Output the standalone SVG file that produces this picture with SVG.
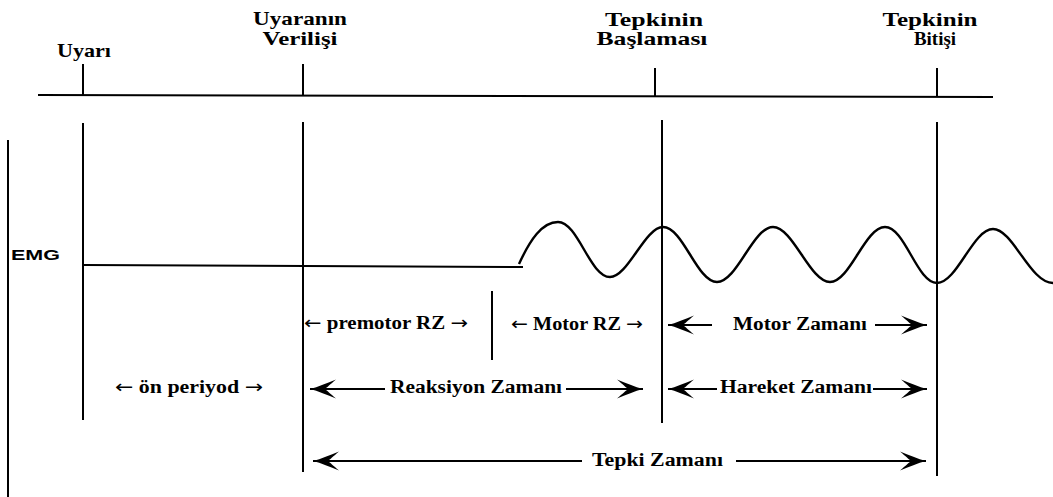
<svg xmlns="http://www.w3.org/2000/svg" width="1053" height="497" viewBox="0 0 1053 497">
  <style>
    .ln { stroke: #000; stroke-width: 2; fill: none; stroke-linecap: butt; }
    .wave { stroke: #000; stroke-width: 2.4; fill: none; stroke-linejoin: round; }
    .lbl { font-family: "Liberation Serif", "DejaVu Serif", serif; font-size: 19px; font-weight: bold; fill: #000; }
    .row { font-family: "Liberation Serif", "DejaVu Serif", serif; font-size: 18px; font-weight: bold; fill: #000; }
    .ar { font-family: "DejaVu Sans", sans-serif; font-weight: normal; }
    .emg { font-family: "Liberation Sans", "DejaVu Sans", sans-serif; font-size: 15px; font-weight: bold; fill: #000; }
    .arr { stroke: #000; stroke-width: 2; fill: none; marker-start: url(#ah); }
    .arr-e { stroke: #000; stroke-width: 2; fill: none; marker-end: url(#ah); }
  </style>
  <defs>
    <marker id="ah" viewBox="-28 -11 30 22" refX="0" refY="0" markerWidth="30" markerHeight="22" markerUnits="userSpaceOnUse" orient="auto-start-reverse">
      <path d="M0,0 C-8,-2 -17,-6 -26,-9.5 C-20,-4.5 -17,-1.5 -15,0 C-17,1.5 -20,4.5 -26,9.5 C-17,6 -8,2 0,0 Z" fill="#000"/>
    </marker>
  </defs>
  <rect width="1053" height="497" fill="#fff"/>

  <g id="timeline">
    <path class="ln" d="M38,95 L993,97"/>
    <path class="ln" d="M83,64 V96"/>
    <path class="ln" d="M303,64 V96"/>
    <path class="ln" d="M655,68 V97"/>
    <path class="ln" d="M937,68 V97"/>
  </g>

  <g id="label-uyari">
    <text class="lbl" x="84" y="57" text-anchor="middle" textLength="54" lengthAdjust="spacingAndGlyphs">Uyarı</text>
  </g>
  <g id="label-uyaranin-verilisi">
    <text class="lbl" x="300" y="25" text-anchor="middle" textLength="94" lengthAdjust="spacingAndGlyphs">Uyaranın</text>
    <text class="lbl" x="300" y="45" text-anchor="middle" textLength="75" lengthAdjust="spacingAndGlyphs">Verilişi</text>
  </g>
  <g id="label-tepkinin-baslamasi">
    <text class="lbl" x="654" y="26" text-anchor="middle" textLength="98" lengthAdjust="spacingAndGlyphs">Tepkinin</text>
    <text class="lbl" x="652" y="45" text-anchor="middle" textLength="111" lengthAdjust="spacingAndGlyphs">Başlaması</text>
  </g>
  <g id="label-tepkinin-bitisi">
    <text class="lbl" x="930" y="26" text-anchor="middle" textLength="95" lengthAdjust="spacingAndGlyphs">Tepkinin</text>
    <text class="lbl" x="935" y="45" text-anchor="middle" textLength="42" lengthAdjust="spacingAndGlyphs">Bitişi</text>
  </g>

  <g id="verticals">
    <path class="ln" d="M8,140 V497" stroke-width="2.6"/>
    <path class="ln" d="M83,123 V420"/>
    <path class="ln" d="M303,122 V472"/>
    <path class="ln" d="M662,120 V423"/>
    <path class="ln" d="M937,122 V476"/>
    <path class="ln" d="M492,291 V360"/>
  </g>

  <g id="emg">
    <text class="emg" x="11" y="260" textLength="49" lengthAdjust="spacingAndGlyphs">EMG</text>
    <path class="ln" d="M83,265 L523,267"/>
    <path class="wave" d="M519,264 C530,240 542,222 558,222 C578,222 590,277 610,277 C628,277 645,227 663,227 C683,227 697,282 717,282 C737,282 753,227 773,227 C793,227 810,282 830,282 C850,282 865,227 885,227 C905,227 917,283 937,283 C957,283 973,229 993,229 C1013,229 1030,283 1053,283"/>
  </g>

  <g id="label-premotor">
    <text class="row" x="304" y="329" textLength="164" lengthAdjust="spacingAndGlyphs"><tspan class="ar">←</tspan> premotor RZ <tspan class="ar">→</tspan></text>
  </g>
  <g id="label-motor-rz">
    <text class="row" x="511" y="330" textLength="132" lengthAdjust="spacingAndGlyphs"><tspan class="ar">←</tspan> Motor RZ <tspan class="ar">→</tspan></text>
  </g>
  <g id="label-on-periyod">
    <text class="row" x="115" y="393" textLength="148" lengthAdjust="spacingAndGlyphs"><tspan class="ar">←</tspan> ön periyod <tspan class="ar">→</tspan></text>
  </g>

  <g id="connectors">
    <path class="arr" d="M668,325 H712"/>
    <path class="arr-e" d="M875,325 H927"/>
    <path class="arr" d="M310,389 H385"/>
    <path class="arr-e" d="M566,389 H643"/>
    <path class="arr" d="M668,389 H717"/>
    <path class="arr-e" d="M873,389 H927"/>
    <path class="arr" d="M313,461 H582"/>
    <path class="arr-e" d="M736,461 H926"/>
  </g>

  <g id="label-motor-zamani">
    <text class="row" x="733" y="330" textLength="134" lengthAdjust="spacingAndGlyphs">Motor Zamanı</text>
  </g>
  <g id="label-reaksiyon-zamani">
    <text class="row" x="390" y="393" textLength="172" lengthAdjust="spacingAndGlyphs">Reaksiyon Zamanı</text>
  </g>
  <g id="label-hareket-zamani">
    <text class="row" x="720" y="393" textLength="152" lengthAdjust="spacingAndGlyphs">Hareket Zamanı</text>
  </g>
  <g id="label-tepki-zamani">
    <text class="row" x="592" y="466" textLength="131" lengthAdjust="spacingAndGlyphs">Tepki Zamanı</text>
  </g>
</svg>
